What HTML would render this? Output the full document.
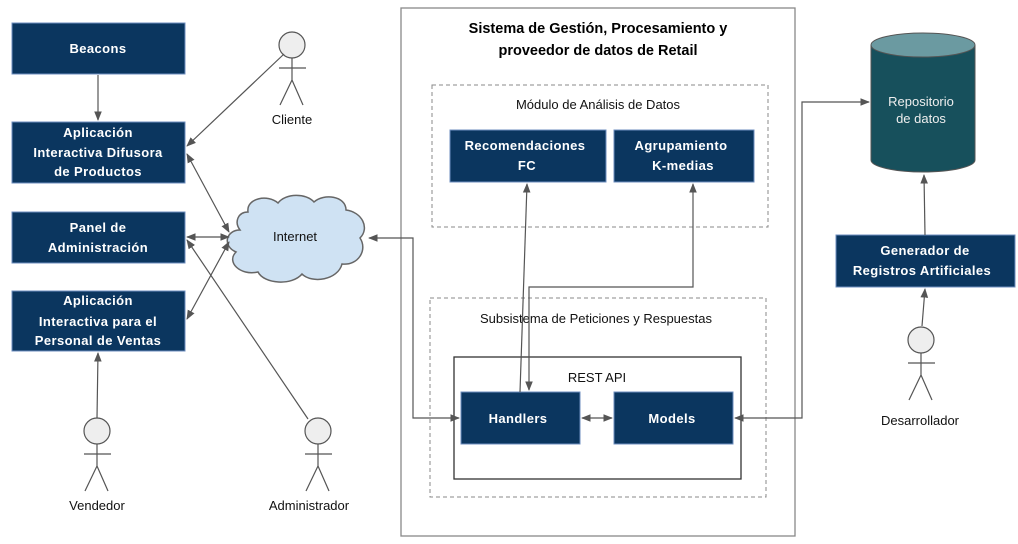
<!DOCTYPE html>
<html><head><meta charset="utf-8"><style>
html,body{margin:0;padding:0;background:#fff;}
svg{display:block;font-family:"Liberation Sans",sans-serif;}
.b{fill:#0b365f;stroke:#6c8ebf;stroke-width:1}
.bt{fill:#fff;font-weight:bold;font-size:13px;text-anchor:middle;letter-spacing:0.4px}
.l{stroke:#555;stroke-width:1.2;fill:none}
.t{font-size:13px;text-anchor:middle;fill:#111}
.act{stroke:#555;stroke-width:1.2;fill:none}
</style></head><body>
<svg width="1018" height="544" viewBox="0 0 1018 544">
<defs>
<marker id="a" viewBox="0 0 10 10" refX="9" refY="5" markerWidth="8" markerHeight="8" orient="auto-start-reverse"><path d="M0,1 L10,5 L0,9 Z" fill="#555"/></marker>
</defs>
<rect x="401" y="8" width="394" height="528" fill="none" stroke="#888" stroke-width="1.3"/>
<text x="598" y="33" font-size="14.5" font-weight="bold" text-anchor="middle">Sistema  de Gestión, Procesamiento   y</text>
<text x="598" y="55" font-size="14.5" font-weight="bold" text-anchor="middle">proveedor  de datos de Retail</text>
<rect x="432" y="85" width="336" height="142" fill="none" stroke="#888" stroke-dasharray="4,3"/>
<text x="598" y="109" class="t">Módulo de Análisis de Datos</text>
<rect x="430" y="298" width="336" height="199" fill="none" stroke="#888" stroke-dasharray="4,3"/>
<text x="596" y="323" class="t">Subsistema  de Peticiones  y Respuestas</text>
<rect x="454" y="357" width="287" height="122" fill="none" stroke="#333" stroke-width="1.3"/>
<text x="597" y="382" class="t" font-size="14">REST  API</text>

<rect class="b" x="12" y="23" width="173" height="51"/><text class="bt" x="98" y="53">Beacons</text>
<rect class="b" x="12" y="122" width="173" height="61"/>
<text class="bt" x="98" y="137">Aplicación</text><text class="bt" x="98" y="157">Interactiva  Difusora</text><text class="bt" x="98" y="176">de Productos</text>
<rect class="b" x="12" y="212" width="173" height="51"/>
<text class="bt" x="98" y="232">Panel  de</text><text class="bt" x="98" y="252">Administración</text>
<rect class="b" x="12" y="291" width="173" height="60"/>
<text class="bt" x="98" y="305">Aplicación</text><text class="bt" x="98" y="326">Interactiva   para el</text><text class="bt" x="98" y="345">Personal  de Ventas</text>
<rect class="b" x="450" y="130" width="156" height="52"/>
<text class="bt" x="525" y="150">Recomendaciones</text><text class="bt" x="527" y="170">FC</text>
<rect class="b" x="614" y="130" width="140" height="52"/>
<text class="bt" x="681" y="150">Agrupamiento</text><text class="bt" x="683" y="170">K-medias</text>
<rect class="b" x="461" y="392" width="119" height="52"/><text class="bt" x="518" y="423">Handlers</text>
<rect class="b" x="614" y="392" width="119" height="52"/><text class="bt" x="672" y="423">Models</text>
<rect class="b" x="836" y="235" width="179" height="52"/>
<text class="bt" x="925" y="255">Generador  de</text><text class="bt" x="922" y="275">Registros  Artificiales</text>

<path d="M871,45 L871,160 A52,12 0 0 0 975,160 L975,45" fill="#17505c" stroke="#555"/>
<ellipse cx="923" cy="45" rx="52" ry="12" fill="#6b9aa1" stroke="#555"/>
<text x="921" y="106" font-size="13" text-anchor="middle" fill="#eee">Repositorio</text>
<text x="921" y="123" font-size="13" text-anchor="middle" fill="#eee">de datos</text>

<path d="M248,212 C246,198 268,194 278,203 C286,193 306,193 314,202 C324,193 346,196 346,210 C362,212 370,228 360,238 C368,250 358,266 342,264 C338,280 312,284 302,274 C292,286 264,284 258,272 C240,276 226,262 236,252 C222,246 226,230 240,230 C234,222 238,212 248,212 Z" fill="#cfe2f3" stroke="#666" stroke-width="1.5"/>
<text x="295" y="241" class="t">Internet</text>

<g class="act">
<circle cx="292" cy="45" r="13" fill="#eee"/><path d="M292,58 V80 M279,68 H306 M292,80 L280,105 M292,80 L303,105"/>
<circle cx="97" cy="431" r="13" fill="#eee"/><path d="M97,444 V466 M84,454 H111 M97,466 L85,491 M97,466 L108,491"/>
<circle cx="318" cy="431" r="13" fill="#eee"/><path d="M318,444 V466 M305,454 H332 M318,466 L306,491 M318,466 L329,491"/>
<circle cx="921" cy="340" r="13" fill="#eee"/><path d="M921,353 V375 M908,363 H935 M921,375 L909,400 M921,375 L932,400"/>
</g>
<text x="292" y="124" class="t">Cliente</text>
<text x="97" y="510" class="t">Vendedor</text>
<text x="309" y="510" class="t">Administrador</text>
<text x="920" y="425" class="t">Desarrollador</text>

<path class="l" d="M98,75 V120" marker-end="url(#a)"/>
<path class="l" d="M284,54 L187,146" marker-end="url(#a)"/>
<path class="l" d="M187,154 L229,232" marker-start="url(#a)" marker-end="url(#a)"/>
<path class="l" d="M187,237 H229" marker-start="url(#a)" marker-end="url(#a)"/>
<path class="l" d="M187,319 L229,242" marker-start="url(#a)" marker-end="url(#a)"/>
<path class="l" d="M308,419 L187,240" marker-end="url(#a)"/>
<path class="l" d="M97,418 L98,353" marker-end="url(#a)"/>
<path class="l" d="M369,238 H413 V418 H459" marker-start="url(#a)" marker-end="url(#a)"/>
<path class="l" d="M582,418 H612" marker-start="url(#a)" marker-end="url(#a)"/>
<path class="l" d="M520,392 L527,184" marker-end="url(#a)"/>
<path class="l" d="M693,184 V287 H529 V390" marker-start="url(#a)" marker-end="url(#a)"/>
<path class="l" d="M735,418 H802 V102 H869" marker-start="url(#a)" marker-end="url(#a)"/>
<path class="l" d="M925,235 L924,175" marker-end="url(#a)"/>
<path class="l" d="M922,326 L925,289" marker-end="url(#a)"/>
</svg>
</body></html>
